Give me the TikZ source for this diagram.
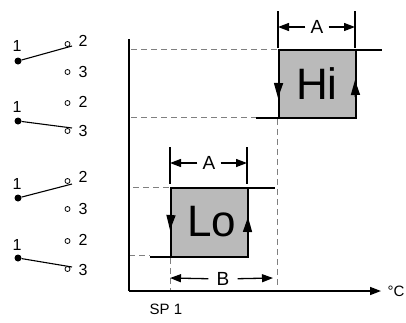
\documentclass[tikz,border=0pt]{standalone}
\usepackage{fontspec}
\setmainfont{Liberation Sans}
\usetikzlibrary{arrows.meta}
\tikzset{
  pole/.style={circle, fill=black, inner sep=0pt, minimum size=7pt},
  contact/.style={circle, draw, line width=0.8pt, fill=white, inner sep=0pt, minimum size=5pt},
  num/.style={inner sep=0pt, font=\fontsize{16}{16}\selectfont},
  lever/.style={line width=1.1pt},
  band/.style={draw, line width=2pt, fill=black!27, inner sep=0pt, outer sep=0pt, minimum width=77pt, font=\fontsize{44}{44}\selectfont},
  guide/.style={dashed, dash pattern=on 6pt off 4pt, line width=0.9pt, draw=black!50},
  lead/.style={line width=2.2pt},
  tick/.style={line width=1.3pt},
  dim/.style={line width=1.3pt, -{Triangle[length=11pt,width=8pt]}},
  flow/.style={line width=1.5pt, -{Triangle[length=15pt,width=9pt]}},
  lab/.style={inner sep=1pt, font=\fontsize{19}{19}\selectfont}
}
\begin{document}
\begin{tikzpicture}[x=1pt,y=-1pt]
\useasboundingbox (0,0) rectangle (406,322);

% switches
\node [pole] (p1) at (18,61) {};
\node [pole] (p2) at (18,121) {};
\node [pole] (p3) at (18,198) {};
\node [pole] (p4) at (18,258) {};
\node [num] (n1) at (17,46) {1};
\node [num] (n2) at (17,107) {1};
\node [num] (n3) at (17,184) {1};
\node [num] (n4) at (17,245) {1};
\node [contact] (c12) at (67.5,44) {};
\node [contact] (c13) at (67.5,72) {};
\node [contact] (c22) at (67.5,103) {};
\node [contact] (c23) at (67.5,131) {};
\node [contact] (c32) at (67.5,181) {};
\node [contact] (c33) at (67.5,209) {};
\node [contact] (c42) at (67.5,241) {};
\node [contact] (c43) at (67.5,269) {};
\node [num] (t12) at (83,41) {2};
\node [num] (t13) at (83,72) {3};
\node [num] (t22) at (83,102) {2};
\node [num] (t23) at (83,131) {3};
\node [num] (t32) at (83,177) {2};
\node [num] (t33) at (83,209) {3};
\node [num] (t42) at (83,240) {2};
\node [num] (t43) at (83,270) {3};
\coordinate (e1) at (72,46);
\coordinate (e2) at (72,128);
\coordinate (e3) at (72,184);
\coordinate (e4) at (72,267);
\draw [lever] (p1) -- (e1);
\draw [lever] (p2) -- (e2);
\draw [lever] (p3) -- (e3);
\draw [lever] (p4) -- (e4);

% axes
\coordinate (org) at (129,291);
\coordinate (top) at (129,39);
\coordinate (end) at (381,291);
\draw [guide] (131,49) -- (278,49);
\draw [guide] (131,117) -- (256,117);
\draw [guide] (133,187) -- (170,187);
\draw [guide] (129,255) -- (150,255);
\draw [guide] (277,119) -- (277,288);
\draw [guide] (170,258) -- (170,290);
\draw [line width=1.5pt] (top) -- (org);
\draw [line width=1.5pt, -{Triangle[length=11pt,width=8pt]}] (org) -- (end);
\node [inner sep=0pt, font=\fontsize{15}{15}\selectfont] (deg) at (396,291) {°C};
\node [inner sep=0pt, font=\fontsize{15}{15}\selectfont] (sp) at (166,309) {SP 1};

% Hi and Lo
\node [band, minimum height=68pt] (hi) at (317,84) {Hi};
\node [band, minimum height=69pt] (lo) at (209,222.5) {\hspace*{6pt}\raisebox{3pt}{Lo}};
\coordinate (hiout) at (382,50);
\coordinate (hiin) at (256,118);
\coordinate (loout) at (275,188);
\coordinate (loin) at (150,257);
\draw [lead] (hi.north east) -- (hiout);
\draw [lead] (hi.south west) -- (hiin);
\draw [lead] (lo.north east) -- (loout);
\draw [lead] (lo.south west) -- (loin);
\coordinate (hid) at (278,98);
\coordinate (hiu) at (355,80);
\coordinate (lod) at (170,230);
\coordinate (lou) at (248,217);
\draw [flow] (hi.west) -- (hid);
\draw [flow] (hi.east) ++(0,13) -- (hiu);
\draw [flow] (lo.west) -- (lod);
\draw [flow] (lo.east) ++(0,10) -- (lou);

% widths
\node [lab] (hia) at (317,27) {A};
\node [lab] (loa) at (209,163) {A};
\node [lab] (lob) at (223,279) {B};
\coordinate (h1) at (278,11);
\coordinate (h2) at (355,11);
\coordinate (l1) at (170,147);
\coordinate (l2) at (247,147);
\coordinate (hl) at (278,27);
\coordinate (hr) at (355,27);
\coordinate (ll) at (170,163);
\coordinate (lr) at (247,163);
\coordinate (bl) at (170,278);
\coordinate (br) at (273,278);
\draw [tick] (h1) -- (278,48);
\draw [tick] (h2) -- (355,48);
\draw [tick] (l1) -- (170,184);
\draw [tick] (l2) -- (247,184);
\draw [dim, shorten <=4pt] (hia) -- (hl);
\draw [dim, shorten <=4pt] (hia) -- (hr);
\draw [dim, shorten <=4pt] (loa) -- (ll);
\draw [dim, shorten <=4pt] (loa) -- (lr);
\draw [dim, shorten <=7pt] (lob) -- (bl);
\draw [dim, shorten <=7pt] (lob) -- (br);
\end{tikzpicture}
\end{document}
